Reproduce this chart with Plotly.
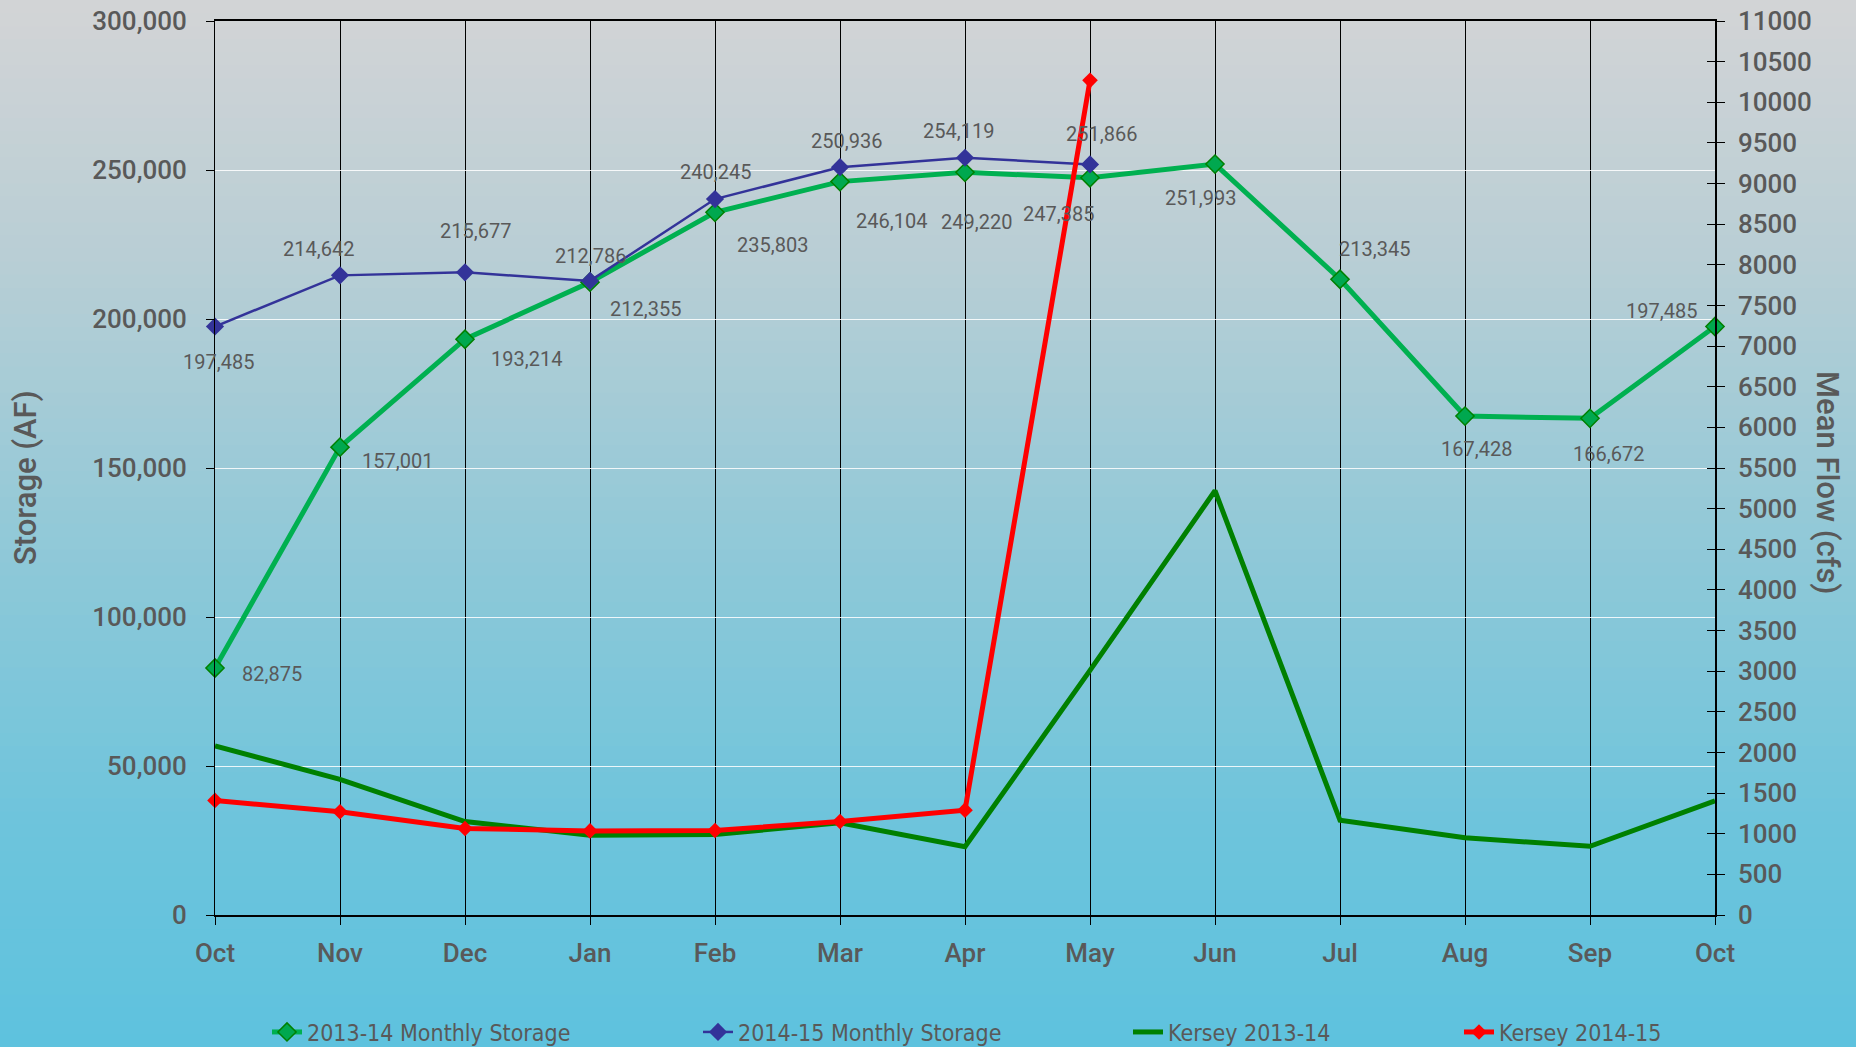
import plotly.graph_objects as go

# ---------------- data ----------------
months = ["Oct", "Nov", "Dec", "Jan", "Feb", "Mar", "Apr", "May", "Jun", "Jul", "Aug", "Sep", "Oct"]
storage_2013_14 = [82875, 157001, 193214, 212355, 235803, 246104, 249220, 247385, 251993, 213345, 167428, 166672, 197485]
storage_2014_15 = [197485, 214642, 215677, 212786, 240245, 250936, 254119, 251866]
kersey_2013_14 = [2080, 1670, 1150, 980, 990, 1135, 840, 3010, 5220, 1165, 950, 845, 1405]
kersey_2014_15 = [1410, 1270, 1065, 1035, 1040, 1150, 1290, 10270]

left_ticks = [0, 50000, 100000, 150000, 200000, 250000, 300000]
right_ticks = list(range(0, 11001, 500))

# label offsets (pixels: dx right, dy up) per point
off_13 = [(57, -6), (57, -14), (61, -20), (55, -27), (57, -33), (51, -39), (11, -50),
          (-32, -36), (-15, -34), (34, 30), (11, -33), (18, -36), (-54, 15)]
off_14 = [(3, -36), (-22, 26), (10, 41), (0, 25), (0, 27), (6, 26), (-7, 27), (11, 30)]

W, H = 1856, 1047
L, R, T, B = 215, 141, 21, 132
x = list(range(len(months)))

fig = go.Figure()

# gradient background stripes
stops = [(0.0, (211, 212, 214)), (0.25, (184, 206, 213)), (0.55, (140, 200, 216)),
         (0.8, (108, 196, 220)), (1.0, (94, 194, 222))]
def col(t):
    for (t0, c0), (t1, c1) in zip(stops[:-1], stops[1:]):
        if t0 <= t <= t1:
            f = (t - t0) / (t1 - t0)
            return "rgb(%d,%d,%d)" % tuple(round(a + (b - a) * f) for a, b in zip(c0, c1))
    return "rgb(94,194,222)"

pw, ph = W - L - R, H - T - B
N = 80
shapes = []
for i in range(N):
    y0px, y1px = H * i / N, H * (i + 1) / N + 1
    shapes.append(dict(type="rect", xref="paper", yref="paper", layer="below",
                       x0=-L / pw, x1=(W - L) / pw,
                       y0=(H - B - y1px) / ph, y1=(H - B - y0px) / ph,
                       fillcolor=col((i + 0.5) / N), line=dict(width=0)))

fig.add_trace(go.Scatter(x=x, y=storage_2013_14, mode="lines+markers", name="2013-14 Monthly Storage",
                         line=dict(color="#00b050", width=5), cliponaxis=False,
                         marker=dict(symbol="diamond", size=14, color="#00a84f",
                                     line=dict(color="#008000", width=1.5)),
                         legend="legend"))
fig.add_trace(go.Scatter(x=x[:len(storage_2014_15)], y=storage_2014_15, mode="lines+markers",
                         name="2014-15 Monthly Storage", cliponaxis=False,
                         line=dict(color="#333399", width=2.5),
                         marker=dict(symbol="diamond", size=14, color="#333399"),
                         legend="legend2"))
fig.add_trace(go.Scatter(x=x, y=kersey_2013_14, mode="lines", name="Kersey 2013-14", yaxis="y2",
                         line=dict(color="#008000", width=5), legend="legend3"))
fig.add_trace(go.Scatter(x=x[:len(kersey_2014_15)], y=kersey_2014_15, mode="lines+markers",
                         name="Kersey 2014-15", yaxis="y2", cliponaxis=False,
                         line=dict(color="#ff0000", width=5),
                         marker=dict(symbol="diamond", size=12, color="#ff0000"),
                         legend="legend4"))

ann = []
lab_font = dict(family="Roboto, DejaVu Sans, sans-serif", size=20, color="#595959")
for i, v in enumerate(storage_2013_14):
    dx, dy = off_13[i]
    ann.append(dict(x=x[i], y=v, xref="x", yref="y", text=f"{v:,}", showarrow=False,
                    xshift=dx, yshift=dy, font=lab_font))
for i, v in enumerate(storage_2014_15):
    dx, dy = off_14[i]
    ann.append(dict(x=x[i], y=v, xref="x", yref="y", text=f"{v:,}", showarrow=False,
                    xshift=dx, yshift=dy, font=lab_font))

tick_font = dict(family="Roboto, Open Sans, sans-serif", size=26, color="#595959", weight=500)
title_font = dict(family="Roboto, Open Sans, sans-serif", size=31, color="#595959", weight=500)
ann.append(dict(x=(26 - L) / pw, y=(H - B - 478) / ph, xref="paper", yref="paper", text="Storage (AF)",
                showarrow=False, textangle=-90, xanchor="center", yanchor="middle", font=title_font))
ann.append(dict(x=(1828 - L) / pw, y=(H - B - 483) / ph, xref="paper", yref="paper", text="Mean Flow (cfs)",
                showarrow=False, textangle=90, xanchor="center", yanchor="middle", font=title_font))

leg_font = dict(family="DejaVu Sans Condensed, Roboto Condensed, Liberation Sans Narrow, Roboto, sans-serif",
                size=23, color="#595959")
leg_x = [267, 698, 1128, 1459]
legs = {}
for k, px in zip(["legend", "legend2", "legend3", "legend4"], leg_x):
    legs[k] = dict(x=px / W, y=1 - 1032 / H, xref="container", yref="container",
                   xanchor="left", yanchor="middle", orientation="h",
                   bgcolor="rgba(0,0,0,0)", font=leg_font, itemwidth=30)

fig.update_layout(
    width=W, height=H,
    margin=dict(l=L, r=R, t=T, b=B, autoexpand=False),
    paper_bgcolor="rgb(94,194,222)",
    plot_bgcolor="rgba(0,0,0,0)",
    shapes=shapes,
    annotations=ann,
    showlegend=True,
    xaxis=dict(range=[0, 12], tickvals=x, ticktext=months, showgrid=True, gridcolor="#000000", gridwidth=1,
               showline=True, linecolor="#000000", linewidth=1.5, mirror=True,
               ticks="outside", ticklen=8, tickcolor="#000000", ticklabelstandoff=6,
               tickfont=tick_font, zeroline=False, fixedrange=True),
    yaxis=dict(range=[0, 300000], tickvals=left_ticks, ticktext=[f"{t:,}" for t in left_ticks],
               showgrid=True, gridcolor="rgba(255,255,255,0.85)", gridwidth=1.2,
               showline=True, linecolor="#000000", linewidth=1,
               ticks="outside", ticklen=8, tickcolor="#000000", ticklabelstandoff=14,
               tickfont=tick_font, zeroline=False),
    yaxis2=dict(range=[0, 11000], tickvals=right_ticks, ticktext=[str(t) for t in right_ticks],
                overlaying="y", side="right", anchor="x",
                showgrid=False, showline=True, linecolor="#000000", linewidth=1.5,
                ticks="outside", ticklen=8, tickcolor="#000000", ticklabelstandoff=8,
                tickfont=tick_font, zeroline=False),
    yaxis3=dict(range=[0, 11000], tickvals=right_ticks, overlaying="y", side="right", anchor="x",
                showgrid=False, showline=False, showticklabels=False,
                ticks="inside", ticklen=8, tickcolor="#000000", zeroline=False),
    **legs,
)
# dummy trace to realize yaxis3
fig.add_trace(go.Scatter(x=[None], y=[None], yaxis="y3", showlegend=False, hoverinfo="skip"))

fig.write_html("out.html", config={"displayModeBar": False},
               post_script="document.body.style.margin='0';document.documentElement.style.overflow='hidden';")
